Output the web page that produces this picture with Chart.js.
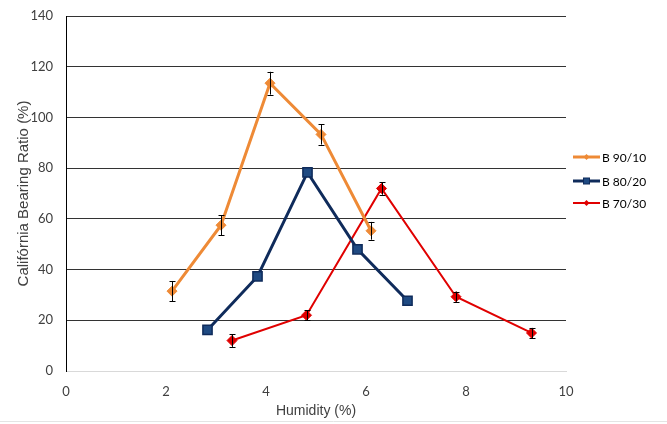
<!DOCTYPE html>
<html>
<head>
<meta charset="utf-8">
<script src="https://cdn.jsdelivr.net/npm/chart.js@4.4.1/dist/chart.umd.min.js"></script>
<style>
  html, body { margin: 0; padding: 0; background: #fff; }
  #wrap { width: 667px; height: 424px; position: relative; }
</style>
</head>
<body>
<div id="wrap"><canvas id="grafica" width="667" height="424"></canvas></div>
<script>
// datos
const nombres = ['B 90/10', 'B 80/20', 'B 70/30'];

const humedad9010 = [2.12, 3.1, 4.08, 5.1, 6.1];
const cbr9010 = [31.5, 57.5, 113.5, 93.3, 55.3];
const err9010 = [4, 4, 4.5, 4, 3.5];

const humedad8020 = [2.83, 3.83, 4.83, 5.83, 6.83];
const cbr8020 = [16.2, 37.3, 78.3, 48, 27.7];
const err8020 = [0, 0, 0, 0, 0];

const humedad7030 = [3.32, 4.81, 6.31, 7.8, 9.31];
const cbr7030 = [12, 22, 72, 29.3, 15];
const err7030 = [2.5, 2, 2.5, 2, 2];

const ticksX = [0, 2, 4, 6, 8, 10];
const ticksY = [0, 20, 40, 60, 80, 100, 120, 140];

function puntos(xs, ys) { return xs.map((x, i) => ({ x: x, y: ys[i] })); }

const colores = ['#EE8A36', '#0F2B5B', '#E00000'];
const fuenteTicks = 'Lato, "Liberation Sans", sans-serif';

const barrasError = {
    id: 'barrasError',
    afterDatasetsDraw(chart) {
        const ctx = chart.ctx;
        const yScale = chart.scales.y;
        ctx.save();
        ctx.strokeStyle = '#000';
        ctx.lineWidth = 1;
        chart.data.datasets.forEach((ds, i) => {
            const meta = chart.getDatasetMeta(i);
            ds.errores.forEach((e, j) => {
                if (!e) return;
                const p = meta.data[j];
                const v = ds.data[j].y;
                const yTop = yScale.getPixelForValue(v + e);
                const yBot = yScale.getPixelForValue(v - e);
                const x = Math.round(p.x) + 0.5;
                ctx.beginPath();
                ctx.moveTo(x, yTop); ctx.lineTo(x, yBot);
                ctx.moveTo(x - 3, Math.round(yTop) + 0.5); ctx.lineTo(x + 3, Math.round(yTop) + 0.5);
                ctx.moveTo(x - 3, Math.round(yBot) + 0.5); ctx.lineTo(x + 3, Math.round(yBot) + 0.5);
                ctx.stroke();
            });
        });
        ctx.restore();
    }
};

const leyenda = {
    id: 'leyenda',
    afterDraw(chart) {
        const ctx = chart.ctx;
        const x0 = 573, x1 = 600;
        const filas = [157, 181, 203];
        ctx.save();
        // marco inferior tenue
        ctx.strokeStyle = '#E4E4E4';
        ctx.lineWidth = 1;
        ctx.beginPath(); ctx.moveTo(0, 421.5); ctx.lineTo(667, 421.5); ctx.stroke();
        chart.data.datasets.forEach((ds, i) => {
            const y = filas[i];
            ctx.strokeStyle = ds.borderColor;
            ctx.lineWidth = ds.borderWidth;
            ctx.beginPath();
            ctx.moveTo(x0, y); ctx.lineTo(x1, y);
            ctx.stroke();
            const cx = (x0 + x1) / 2;
            ctx.fillStyle = ds.pointBackgroundColor;
            ctx.strokeStyle = ds.pointBorderColor;
            ctx.lineWidth = 1;
            if (ds.pointStyle === 'rect') {
                ctx.fillRect(cx - 3, y - 3, 6, 6);
                ctx.strokeRect(cx - 3, y - 3, 6, 6);
            } else {
                ctx.beginPath();
                ctx.moveTo(cx, y - 3); ctx.lineTo(cx + 3, y); ctx.lineTo(cx, y + 3); ctx.lineTo(cx - 3, y);
                ctx.closePath(); ctx.fill();
            }
            ctx.fillStyle = '#000';
            ctx.font = '12px ' + fuenteTicks;
            ctx.textBaseline = 'middle';
            ctx.fillText(ds.label, 602, y + 1);
        });
        ctx.restore();
    }
};

const ctx = document.getElementById('grafica').getContext('2d');
new Chart(ctx, {
    type: 'line',
    data: {
        datasets: [
            {
                label: nombres[0], data: puntos(humedad9010, cbr9010), errores: err9010,
                borderColor: colores[0], borderWidth: 3,
                pointStyle: 'rectRot', pointRadius: 5,
                pointBackgroundColor: colores[0], pointBorderColor: colores[0], pointBorderWidth: 1
            },
            {
                label: nombres[1], data: puntos(humedad8020, cbr8020), errores: err8020,
                borderColor: colores[1], borderWidth: 3,
                pointStyle: 'rect', pointRadius: 6.5,
                pointBackgroundColor: '#1F4A82', pointBorderColor: colores[1], pointBorderWidth: 1.5
            },
            {
                label: nombres[2], data: puntos(humedad7030, cbr7030), errores: err7030,
                borderColor: colores[2], borderWidth: 2,
                pointStyle: 'rectRot', pointRadius: 5,
                pointBackgroundColor: colores[2], pointBorderColor: colores[2], pointBorderWidth: 1
            }
        ]
    },
    options: {
        responsive: false,
        animation: false,
        layout: { padding: { left: 0, right: 101, top: 0, bottom: 0 } },
        plugins: { legend: { display: false }, tooltip: { enabled: false } },
        scales: {
            x: {
                type: 'linear', min: 0, max: 10,
                afterBuildTicks: s => { s.ticks = ticksX.map(v => ({ value: v })); },
                afterFit: s => { s.height = 53; },
                grid: { display: false, drawTicks: false },
                border: { display: true, color: '#D9D9D9', width: 1 },
                ticks: { color: '#404040', padding: 13, font: { family: fuenteTicks, size: 13 } },
                title: { display: true, text: 'Humidity (%)', color: '#404040', padding: { top: 0, bottom: 4 },
                         font: { family: '"Liberation Sans", Arial, sans-serif', size: 14 } }
            },
            y: {
                min: 0, max: 140,
                afterBuildTicks: s => { s.ticks = ticksY.map(v => ({ value: v })); },
                afterFit: s => { s.width = 66; s.paddingTop = 16; s.paddingBottom = 0; },
                grid: { drawTicks: false, color: c => c.tick && c.tick.value === 0 ? '#D9D9D9' : '#333333', lineWidth: 1 },
                border: { display: true, color: '#000', width: 1 },
                ticks: { color: '#404040', padding: 13, font: { family: fuenteTicks, size: 13 } },
                title: { display: true, text: 'Califórnia Bearing Ratio (%)', color: '#404040', padding: { top: 15, bottom: 0 },
                         font: { family: '"Liberation Sans", Arial, sans-serif', size: 15 } }
            }
        }
    },
    plugins: [barrasError, leyenda]
});
</script>
</body>
</html>
